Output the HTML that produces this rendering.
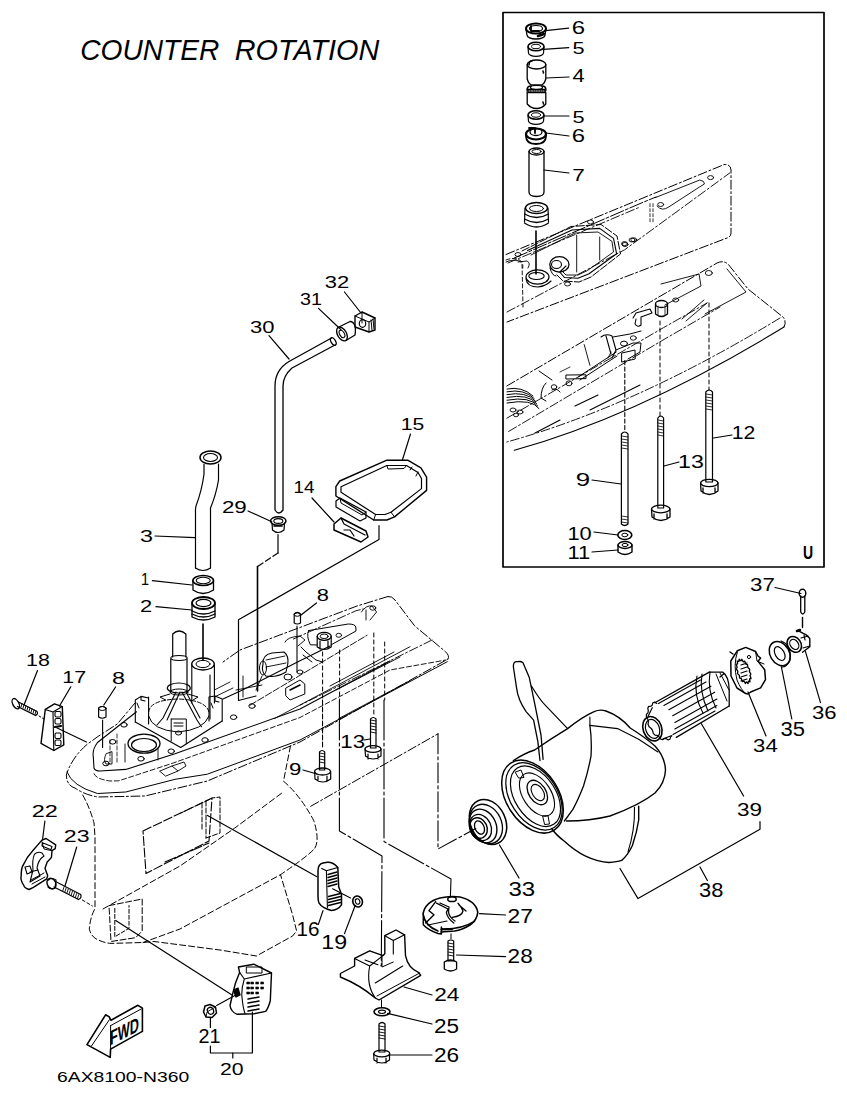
<!DOCTYPE html>
<html><head><meta charset="utf-8"><style>
html,body{margin:0;padding:0;background:#fff;}
svg{display:block;}
text{font-family:"Liberation Sans",sans-serif;fill:#000;stroke:none;}
</style></head><body>
<svg width="847" height="1095" viewBox="0 0 847 1095">
<rect x="0" y="0" width="847" height="1095" fill="#fff"/>
<g stroke="#000" stroke-linecap="round" stroke-linejoin="round" fill="none">
<text x="80.2" y="59.6" font-size="29.58" textLength="139.1" lengthAdjust="spacingAndGlyphs" font-style="italic">COUNTER</text>
<text x="234.8" y="59.6" font-size="29.58" textLength="144.5" lengthAdjust="spacingAndGlyphs" font-style="italic">ROTATION</text>
<text x="57.0" y="1082.1" font-size="15.21" textLength="132.2" lengthAdjust="spacingAndGlyphs">6AX8100-N360</text>
<rect x="503" y="12.5" width="321" height="554.5" stroke-width="1.7"/>
<text x="571.7" y="33.5" font-size="18.03" textLength="13.3" lengthAdjust="spacingAndGlyphs">6</text>
<text x="572.4" y="53.7" font-size="17.29" textLength="12.1" lengthAdjust="spacingAndGlyphs">5</text>
<text x="572.5" y="82.2" font-size="17.83" textLength="12.2" lengthAdjust="spacingAndGlyphs">4</text>
<text x="572.4" y="123.2" font-size="17.14" textLength="12.1" lengthAdjust="spacingAndGlyphs">5</text>
<text x="571.7" y="141.7" font-size="17.61" textLength="13.3" lengthAdjust="spacingAndGlyphs">6</text>
<text x="572.2" y="181.4" font-size="17.39" textLength="12.6" lengthAdjust="spacingAndGlyphs">7</text>
<text x="731.7" y="438.5" font-size="17.71" textLength="23.6" lengthAdjust="spacingAndGlyphs">12</text>
<text x="678.0" y="468.2" font-size="18.31" textLength="25.8" lengthAdjust="spacingAndGlyphs">13</text>
<text x="575.8" y="485.7" font-size="17.46" textLength="14.4" lengthAdjust="spacingAndGlyphs">9</text>
<text x="567.4" y="539.7" font-size="18.31" textLength="24.3" lengthAdjust="spacingAndGlyphs">10</text>
<text x="567.4" y="559.4" font-size="18.84" textLength="22.8" lengthAdjust="spacingAndGlyphs">11</text>
<text x="802.9" y="559.3" font-size="18.00" textLength="10.1" lengthAdjust="spacingAndGlyphs" font-weight="bold">U</text>
<line x1="545.7" y1="30.6" x2="568.7" y2="28.1" stroke-width="1.2"/>
<line x1="543.5" y1="49.3" x2="568.7" y2="47.7" stroke-width="1.2"/>
<line x1="546" y1="78" x2="569" y2="77" stroke-width="1.2"/>
<line x1="544" y1="116" x2="569" y2="116" stroke-width="1.2"/>
<line x1="546" y1="133" x2="569" y2="136" stroke-width="1.2"/>
<line x1="544" y1="170" x2="569" y2="173" stroke-width="1.2"/>
<line x1="713.5" y1="438" x2="732" y2="435" stroke-width="1.2"/>
<line x1="664" y1="466" x2="679" y2="462" stroke-width="1.2"/>
<line x1="592" y1="480" x2="621" y2="484" stroke-width="1.2"/>
<line x1="594" y1="532" x2="618" y2="535" stroke-width="1.2"/>
<line x1="592" y1="552" x2="618" y2="550" stroke-width="1.2"/>
<text x="324.7" y="288.1" font-size="16.62" textLength="24.4" lengthAdjust="spacingAndGlyphs">32</text>
<text x="300.0" y="304.7" font-size="16.90" textLength="22.0" lengthAdjust="spacingAndGlyphs">31</text>
<text x="250.1" y="332.7" font-size="16.90" textLength="24.5" lengthAdjust="spacingAndGlyphs">30</text>
<text x="221.9" y="513.2" font-size="16.62" textLength="24.9" lengthAdjust="spacingAndGlyphs">29</text>
<text x="400.8" y="430.3" font-size="16.43" textLength="23.6" lengthAdjust="spacingAndGlyphs">15</text>
<text x="293.6" y="493.4" font-size="16.67" textLength="21.0" lengthAdjust="spacingAndGlyphs">14</text>
<text x="140.1" y="541.7" font-size="16.90" textLength="13.0" lengthAdjust="spacingAndGlyphs">3</text>
<text x="141.1" y="584.7" font-size="16.67" textLength="8.1" lengthAdjust="spacingAndGlyphs">1</text>
<text x="140.1" y="612.0" font-size="16.57" textLength="12.2" lengthAdjust="spacingAndGlyphs">2</text>
<text x="316.7" y="600.6" font-size="16.62" textLength="12.2" lengthAdjust="spacingAndGlyphs">8</text>
<text x="111.9" y="683.5" font-size="16.48" textLength="13.0" lengthAdjust="spacingAndGlyphs">8</text>
<text x="26.0" y="665.9" font-size="17.18" textLength="23.8" lengthAdjust="spacingAndGlyphs">18</text>
<text x="62.2" y="682.9" font-size="17.39" textLength="23.9" lengthAdjust="spacingAndGlyphs">17</text>
<text x="340.3" y="747.7" font-size="18.31" textLength="24.7" lengthAdjust="spacingAndGlyphs">13</text>
<text x="289.0" y="775.1" font-size="16.48" textLength="12.4" lengthAdjust="spacingAndGlyphs">9</text>
<text x="31.8" y="816.5" font-size="16.86" textLength="26.1" lengthAdjust="spacingAndGlyphs">22</text>
<text x="63.8" y="842.4" font-size="16.62" textLength="25.8" lengthAdjust="spacingAndGlyphs">23</text>
<text x="296.5" y="936.4" font-size="19.30" textLength="22.9" lengthAdjust="spacingAndGlyphs">16</text>
<text x="321.3" y="948.7" font-size="19.72" textLength="25.8" lengthAdjust="spacingAndGlyphs">19</text>
<text x="508.4" y="895.7" font-size="21.13" textLength="26.7" lengthAdjust="spacingAndGlyphs">33</text>
<text x="507.6" y="922.9" font-size="20.00" textLength="25.3" lengthAdjust="spacingAndGlyphs">27</text>
<text x="507.6" y="962.5" font-size="19.44" textLength="25.1" lengthAdjust="spacingAndGlyphs">28</text>
<text x="434.2" y="1001.4" font-size="18.00" textLength="25.2" lengthAdjust="spacingAndGlyphs">24</text>
<text x="433.9" y="1033.1" font-size="19.44" textLength="25.1" lengthAdjust="spacingAndGlyphs">25</text>
<text x="433.9" y="1062.2" font-size="19.44" textLength="25.2" lengthAdjust="spacingAndGlyphs">26</text>
<text x="198.6" y="1042.7" font-size="19.71" textLength="22.0" lengthAdjust="spacingAndGlyphs">21</text>
<text x="219.9" y="1074.7" font-size="17.18" textLength="23.6" lengthAdjust="spacingAndGlyphs">20</text>
<text x="750.1" y="590.7" font-size="19.01" textLength="24.8" lengthAdjust="spacingAndGlyphs">37</text>
<text x="812.1" y="718.7" font-size="18.73" textLength="24.5" lengthAdjust="spacingAndGlyphs">36</text>
<text x="780.4" y="735.7" font-size="19.72" textLength="24.5" lengthAdjust="spacingAndGlyphs">35</text>
<text x="753.1" y="751.7" font-size="18.31" textLength="24.6" lengthAdjust="spacingAndGlyphs">34</text>
<text x="737.1" y="816.2" font-size="17.75" textLength="25.0" lengthAdjust="spacingAndGlyphs">39</text>
<text x="699.1" y="896.7" font-size="21.13" textLength="24.3" lengthAdjust="spacingAndGlyphs">38</text>
<line x1="344.5" y1="292" x2="361" y2="313" stroke-width="1.2"/>
<line x1="318.5" y1="308.4" x2="341" y2="329.7" stroke-width="1.2"/>
<line x1="269" y1="335.6" x2="289" y2="359" stroke-width="1.2"/>
<line x1="248" y1="511" x2="271.7" y2="521.7" stroke-width="1.2"/>
<line x1="410.5" y1="434" x2="402.4" y2="460" stroke-width="1.2"/>
<line x1="312" y1="498" x2="334" y2="522" stroke-width="1.2"/>
<line x1="155" y1="536" x2="195" y2="537.7" stroke-width="1.2"/>
<line x1="152.4" y1="580.7" x2="192" y2="585" stroke-width="1.2"/>
<line x1="156" y1="606.7" x2="192" y2="610" stroke-width="1.2"/>
<line x1="316.5" y1="603" x2="301" y2="615" stroke-width="1.2"/>
<line x1="115.6" y1="687" x2="103.8" y2="705" stroke-width="1.2"/>
<line x1="37.5" y1="670.5" x2="24" y2="705" stroke-width="1.2"/>
<line x1="70.8" y1="686.8" x2="59.5" y2="706" stroke-width="1.2"/>
<line x1="364" y1="740" x2="370" y2="739" stroke-width="1.2"/>
<line x1="303" y1="770" x2="317" y2="774" stroke-width="1.2"/>
<line x1="44.9" y1="821" x2="42.5" y2="840" stroke-width="1.2"/>
<line x1="76.7" y1="847" x2="65" y2="886" stroke-width="1.2"/>
<line x1="323" y1="910.6" x2="318.4" y2="924.4" stroke-width="1.2"/>
<line x1="355" y1="906" x2="344.5" y2="933.6" stroke-width="1.2"/>
<line x1="499.5" y1="845" x2="519" y2="878" stroke-width="1.2"/>
<line x1="479.6" y1="913.7" x2="505.6" y2="915" stroke-width="1.2"/>
<line x1="456.5" y1="955" x2="505.6" y2="956.6" stroke-width="1.2"/>
<line x1="404" y1="987" x2="432" y2="995" stroke-width="1.2"/>
<line x1="387.5" y1="1013.4" x2="432" y2="1024" stroke-width="1.2"/>
<line x1="389" y1="1055" x2="432" y2="1055" stroke-width="1.2"/>
<line x1="775" y1="587.5" x2="801" y2="593.5" stroke-width="1.2"/>
<line x1="805.4" y1="651.4" x2="820.5" y2="702.6" stroke-width="1.2"/>
<line x1="781.3" y1="666.5" x2="791.8" y2="719" stroke-width="1.2"/>
<line x1="748" y1="692" x2="766" y2="736" stroke-width="1.2"/>
<line x1="701.4" y1="723.7" x2="743.6" y2="796" stroke-width="1.2"/>
<polyline points="620,868.5 638,898.6 760,829.3 760,821.7" stroke-width="1.2" fill="none"/>
<line x1="700" y1="867" x2="707.4" y2="880.5" stroke-width="1.2"/>
<polyline points="210.4,1046 210.4,1053 252.4,1053 252.4,1012" stroke-width="1.2" fill="none"/>
<line x1="232.8" y1="1053" x2="232.8" y2="1058" stroke-width="1.2"/>
<line x1="210.4" y1="1018" x2="210.4" y2="1027.5" stroke-width="1.2"/>
<ellipse cx="536" cy="28.5" rx="10" ry="5" stroke-width="2" fill="none"/>
<ellipse cx="536" cy="28.5" rx="6.5" ry="3" stroke-width="1.2" fill="none"/>
<path d="M526,29 L527,35 M546,29 L545,35 M527,35 A9,4 0 0 0 545,35" stroke-width="1.3" fill="none"/>
<path d="M538,36 L544,34" stroke-width="2.5" fill="none"/>
<path d="M531,26 L531,31 L539,31" stroke-width="1.8" fill="none"/>
<ellipse cx="536" cy="46.5" rx="8" ry="4.3" stroke-width="1.6" fill="none"/>
<ellipse cx="536" cy="46.5" rx="4.5" ry="2.2" stroke-width="1" fill="none"/>
<path d="M528,47 L528.5,53 M544,47 L543.5,53 M528.5,53 A7.5,3.3 0 0 0 543.5,53" stroke-width="1.2" fill="none"/>
<ellipse cx="536.5" cy="64.5" rx="9.3" ry="4.5" stroke-width="1.3" fill="none"/>
<path d="M529,65 Q529,61 532,61" stroke-width="1.6" fill="none"/>
<path d="M527.2,64.5 L527.2,79 Q528,83 531,85 L542,85 Q545,83 545.8,79 L545.8,64.5" stroke-width="1.3" fill="none"/>
<path d="M543,71 L543.5,73" stroke-width="1.5" fill="none"/>
<ellipse cx="536.5" cy="87.5" rx="6" ry="2" stroke-width="1.2" fill="none"/>
<path d="M527.2,90 Q527,86 531,86 M542,86 Q546,86 545.8,90" stroke-width="1.6" fill="none"/>
<path d="M527.2,89 L545.8,89 L545.8,93 L527.2,93 Z" stroke-width="0.5" fill="#000"/>
<path d="M529,91 L544,91" stroke-width="0.8" fill="none" stroke="#fff" stroke-dasharray="1.2 1.2"/>
<path d="M527.2,93 L527.2,104 Q531,108.5 536.5,108.5 Q542,108.5 545.8,104 L545.8,93" stroke-width="1.3" fill="none"/>
<path d="M543,102 L543.5,104" stroke-width="1.5" fill="none"/>
<ellipse cx="536" cy="115" rx="8" ry="4.3" stroke-width="1.6" fill="none"/>
<ellipse cx="536" cy="115" rx="4.5" ry="2.2" stroke-width="1" fill="none"/>
<path d="M528,116 L528.5,121 M544,116 L543.5,121 M528.5,121 A7.5,3.3 0 0 0 543.5,121" stroke-width="1.2" fill="none"/>
<ellipse cx="536" cy="134" rx="10" ry="5.5" stroke-width="2.2" fill="none"/>
<ellipse cx="536" cy="132" rx="6" ry="3.5" stroke-width="1.3" fill="none"/>
<path d="M529,128 L535,128 L535,133 M526,136 Q526,144 536,144 Q546,144 546,136" stroke-width="1.8" fill="none"/>
<ellipse cx="536.5" cy="151.5" rx="7.5" ry="3.5" stroke-width="1.3" fill="none"/>
<ellipse cx="536.5" cy="151.5" rx="4.5" ry="2" stroke-width="1" fill="none"/>
<path d="M529,151.5 L529,192 Q529,196.5 536.5,196.5 Q544,196.5 544,192 L544,151.5" stroke-width="1.3" fill="none"/>
<ellipse cx="536.5" cy="208" rx="11" ry="5.5" stroke-width="1.4" fill="none"/>
<ellipse cx="536.5" cy="208.5" rx="7" ry="3" stroke-width="1" fill="none"/>
<path d="M525,208 L524.5,222 M548,208 L548.5,222" stroke-width="1.2" fill="none"/>
<path d="M524.5,214 Q536.5,221 548.5,214 M524.5,219 Q536.5,226 548.5,219 M524.5,223 Q536.5,231 548.5,223" stroke-width="1.3" fill="none"/>
<line x1="536" y1="231" x2="536" y2="274" stroke-width="1.6"/>
<path d="M506,254.5 L724,164.6 Q731,164 731,170 L731,233 Q731,237 727,238 L507,322" stroke-width="1.0" fill="none" stroke-dasharray="9 2.5 2 2.5"/>
<path d="M508,263 L640,207" stroke-width="0.9" fill="none" stroke-dasharray="9 2.5 2 2.5"/>
<path d="M507,312 L624.6,249.8 L729.7,173" stroke-width="0.9" fill="none" stroke-dasharray="9 2.5 2 2.5"/>
<path d="M506,262 Q515,258 521,262" stroke-width="0.9" fill="none"/>
<polyline points="527.5,250.6 572,230 599.7,228.4 613.5,238.4 616.6,253.7 589,273.7 578,278.3 564.4,277.5 559.8,272 566,266" stroke-width="1.1" fill="none"/>
<polyline points="522,251 571,226.5 601,224.5 617,236 620.5,254 591,277 579,282 563,281 556,274" stroke-width="1.0" fill="none" stroke-dasharray="8 2"/>
<path d="M514.3,258 L639,204 L656,197" stroke-width="1.0" fill="none" stroke-dasharray="14 2 3 2"/>
<path d="M518,262 L527,261 Q531,263 528,268 M522.8,265 L522.8,268" stroke-width="0.9" fill="none"/>
<polyline points="531,255 575,233 598,232 612,241.4 613.5,252 587.4,270.6 578,275 566,275 562,271" stroke-width="0.9" fill="none"/>
<line x1="576.7" y1="235" x2="576.7" y2="272" stroke-width="0.9"/>
<line x1="599.7" y1="237" x2="599.7" y2="260" stroke-width="0.9"/>
<ellipse cx="559.4" cy="264.4" rx="9.6" ry="7.7" stroke-width="1.3" fill="none"/>
<ellipse cx="556.5" cy="264.5" rx="5" ry="4" stroke-width="1.1" fill="none"/>
<path d="M550,268 Q552,276 556,276" stroke-width="1.0" fill="none"/>
<ellipse cx="537.5" cy="277" rx="11.5" ry="7.2" stroke-width="1.2" fill="none"/>
<ellipse cx="536.5" cy="276" rx="7.7" ry="3.5" stroke-width="1.1" fill="none"/>
<path d="M526,279 Q527,287 538,287 Q546,286 551,281" stroke-width="1.1" fill="none"/>
<path d="M506,260 Q516,256 522,262 L523,307" stroke-width="0.9" fill="none" stroke-dasharray="4 2.5"/>
<ellipse cx="590.5" cy="222" rx="3" ry="2" stroke-width="0.9" fill="none"/>
<ellipse cx="625" cy="244.5" rx="3" ry="2" stroke-width="0.9" fill="none"/>
<ellipse cx="632" cy="240" rx="3" ry="2" stroke-width="0.9" fill="none"/>
<ellipse cx="518" cy="254.5" rx="3" ry="2" stroke-width="0.9" fill="none"/>
<ellipse cx="567.5" cy="284" rx="3" ry="2" stroke-width="0.9" fill="none"/>
<ellipse cx="710.6" cy="177.6" rx="3" ry="2" stroke-width="0.9" fill="none"/>
<ellipse cx="660.7" cy="204.5" rx="3" ry="2" stroke-width="0.9" fill="none"/>
<ellipse cx="624.6" cy="243.6" rx="3" ry="2" stroke-width="0.9" fill="none"/>
<ellipse cx="633.8" cy="239.8" rx="3" ry="2" stroke-width="0.9" fill="none"/>
<path d="M655.3,197.6 L699.8,180 Q705,181 704.4,184 L699.8,186.8 L669,206.8 Q662,212 657,206" stroke-width="0.9" fill="none"/>
<path d="M650,203.7 L650,223.7 M653,203.7 L653,223.7" stroke-width="0.8" fill="none" stroke-dasharray="3 2"/>
<path d="M506.8,386 L717,263 Q723,260 728,264 L748,289 L783,317 Q787,322 784,327" stroke-width="1.0" fill="none" stroke-dasharray="9 2.5 2 2.5"/>
<path d="M784,327 Q640,415 514.3,450.3" stroke-width="1.1" fill="none"/>
<path d="M780,318 Q636,406 506.8,442" stroke-width="0.9" fill="none" stroke-dasharray="9 2.5 2 2.5"/>
<path d="M727,269 L746,292 L705,314" stroke-width="0.9" fill="none"/>
<path d="M506.8,418.2 L663.6,327.6 L707,303" stroke-width="0.9" fill="none" stroke-dasharray="9 2.5 2 2.5"/>
<path d="M508.7,431.4 L661.7,340.8 L720,307" stroke-width="0.9" fill="none" stroke-dasharray="9 2.5 2 2.5"/>
<path d="M575,406 L598,395 M535,433 L560,420 M590,410 L640,385" stroke-width="1.1" fill="none"/>
<path d="M682,319 L704,300 M686,321 L707,303" stroke-width="0.9" fill="none"/>
<path d="M661,284 L699,274 L701,286 L665,305" stroke-width="0.9" fill="none"/>
<ellipse cx="661.5" cy="304" rx="6" ry="3.5" stroke-width="1.3" fill="none"/>
<path d="M655.5,304 L655.5,314 Q661.5,319 667.5,314 L667.5,304" stroke-width="1.3" fill="none"/>
<path d="M658,306 L658,315 M665,306 L665,315" stroke-width="0.8" fill="none"/>
<ellipse cx="708.8" cy="273" rx="3.5" ry="2.5" stroke-width="0.9" fill="none"/>
<ellipse cx="675.7" cy="300" rx="3" ry="2" stroke-width="0.9" fill="none"/>
<path d="M633,318 L636,313 L650,309 L652,313 L641,317 L641,325 Q638,328 635,324 L636,319" stroke-width="1.1" fill="none"/>
<path d="M601,337 Q606,333 612,336 L616,350 L612,358 M606,336 L611,354" stroke-width="1.1" fill="none"/>
<path d="M613,337 L630,334 L641,331 M616,350 L633,343 L641,343 L640,352 L628,359" stroke-width="1.0" fill="none"/>
<ellipse cx="624" cy="343.6" rx="3.5" ry="2.5" stroke-width="1.0" fill="none"/>
<ellipse cx="633.3" cy="338" rx="3" ry="2.2" stroke-width="0.9" fill="none"/>
<path d="M622,353 L635,350 L635.2,359 L622,362 Z" stroke-width="1.0" fill="none"/>
<path d="M584.2,344.6 L589.9,365.3" stroke-width="0.9" fill="none"/>
<path d="M566.3,375 L586,374.8 L586,378.6 L566.3,379 Z" stroke-width="1.0" fill="none"/>
<path d="M578.6,376.7 L616.3,352 M580,380 L617,356" stroke-width="1.0" fill="none"/>
<path d="M539,371 L552,380 M546,383 Q541,388 541,398 L546,401 M552,390 Q556,387 560,392" stroke-width="1.0" fill="none"/>
<ellipse cx="554" cy="387" rx="2.8" ry="2.3" stroke-width="0.9" fill="none"/>
<ellipse cx="569" cy="383.3" rx="3" ry="2.5" stroke-width="0.9" fill="none"/>
<path d="M507.0,389.0 Q522.0,386.0 533.0,396.0" stroke-width="1.0" fill="none"/>
<path d="M507.0,391.8 Q524.0,388.5 534.2,398.5" stroke-width="1.0" fill="none"/>
<path d="M507.0,394.6 Q526.0,391.0 535.4,401.0" stroke-width="1.0" fill="none"/>
<path d="M507.0,397.4 Q528.0,393.5 536.6,403.5" stroke-width="1.0" fill="none"/>
<path d="M507.0,400.2 Q530.0,396.0 537.8,406.0" stroke-width="1.0" fill="none"/>
<path d="M507.0,403.0 Q532.0,398.5 539.0,408.5" stroke-width="1.0" fill="none"/>
<ellipse cx="513" cy="410" rx="3" ry="2" stroke-width="0.9" fill="none"/>
<ellipse cx="520" cy="412" rx="3" ry="2" stroke-width="0.9" fill="none"/>
<ellipse cx="516" cy="415" rx="2.5" ry="1.8" stroke-width="0.9" fill="none"/>
<path d="M608,358 L611,352 M560,372 L570,367" stroke-width="0.8" fill="none"/>
<line x1="624.8" y1="360.6" x2="624.8" y2="431.4" stroke-width="1.1" stroke-dasharray="4 2.5"/>
<line x1="660" y1="321" x2="660" y2="416" stroke-width="1" stroke-dasharray="4 3"/>
<line x1="709" y1="303" x2="709" y2="390" stroke-width="1" stroke-dasharray="4 3"/>
<path d="M621.4,434 Q624.7,430 628,434 L628,524 Q624.7,527 621.4,524 Z" stroke-width="1.2" fill="none"/>
<line x1="621.5" y1="436" x2="627.9" y2="437" stroke-width="0.8"/>
<line x1="621.5" y1="439" x2="627.9" y2="440" stroke-width="0.8"/>
<line x1="621.5" y1="442" x2="627.9" y2="443" stroke-width="0.8"/>
<line x1="621.5" y1="445" x2="627.9" y2="446" stroke-width="0.8"/>
<line x1="621.5" y1="448" x2="627.9" y2="449" stroke-width="0.8"/>
<line x1="621.5" y1="516" x2="627.9" y2="517" stroke-width="0.8"/>
<line x1="621.5" y1="519" x2="627.9" y2="520" stroke-width="0.8"/>
<line x1="621.5" y1="522" x2="627.9" y2="523" stroke-width="0.8"/>
<ellipse cx="624.8" cy="535" rx="7" ry="4.5" stroke-width="1.6" fill="none"/>
<ellipse cx="624.8" cy="535" rx="3" ry="1.8" stroke-width="1" fill="none"/>
<ellipse cx="625" cy="545" rx="7" ry="3.5" stroke-width="1.4" fill="none"/>
<ellipse cx="625" cy="545" rx="3" ry="1.6" stroke-width="1" fill="none"/>
<path d="M618,545 L618,552 Q625,557 632,552 L632,545" stroke-width="1.4" fill="none"/>
<path d="M657.8,418 Q660.7,414 663.6,418 L663.6,508 L657.8,508 Z" stroke-width="1.2" fill="none"/>
<line x1="657.9" y1="420" x2="663.5" y2="421" stroke-width="0.8"/>
<line x1="657.9" y1="423" x2="663.5" y2="424" stroke-width="0.8"/>
<line x1="657.9" y1="426" x2="663.5" y2="427" stroke-width="0.8"/>
<line x1="657.9" y1="429" x2="663.5" y2="430" stroke-width="0.8"/>
<line x1="657.9" y1="432" x2="663.5" y2="433" stroke-width="0.8"/>
<line x1="657.9" y1="435" x2="663.5" y2="436" stroke-width="0.8"/>
<ellipse cx="660.7" cy="509" rx="9.2" ry="3.8" stroke-width="1.3" fill="none"/>
<path d="M651.5,509 L652,517 Q660.7,524 670,517 L670,509 M654,514 L654,519 M667,514 L667,519" stroke-width="1.3" fill="none"/>
<path d="M705.8,392 Q709.2,388 712.5,392 L712.5,482 L705.8,482 Z" stroke-width="1.2" fill="none"/>
<line x1="705.9" y1="394" x2="712.4" y2="395" stroke-width="0.8"/>
<line x1="705.9" y1="397" x2="712.4" y2="398" stroke-width="0.8"/>
<line x1="705.9" y1="400" x2="712.4" y2="401" stroke-width="0.8"/>
<line x1="705.9" y1="403" x2="712.4" y2="404" stroke-width="0.8"/>
<line x1="705.9" y1="406" x2="712.4" y2="407" stroke-width="0.8"/>
<line x1="705.9" y1="409" x2="712.4" y2="410" stroke-width="0.8"/>
<ellipse cx="709.3" cy="483" rx="8.7" ry="3.7" stroke-width="1.3" fill="none"/>
<path d="M700.6,483 L701,491 Q709.3,498 718,491 L718,483 M703,488 L703,493 M715,488 L715,493" stroke-width="1.3" fill="none"/>
<ellipse cx="802.5" cy="593.3" rx="3.3" ry="4" stroke-width="1.4" fill="none"/>
<path d="M800.7,596 L800.7,612 Q802.7,616 804.8,612 L804.8,596" stroke-width="1.3" fill="none"/>
<line x1="802.5" y1="617.5" x2="802.5" y2="627.5" stroke-width="1.4"/>
<path d="M798.9,631.2 L806.2,634.8 L809.8,638.5 L809.8,646.7 L802.5,652.2" stroke-width="1.4" fill="none"/>
<ellipse cx="794.3" cy="644.4" rx="6.6" ry="8.4" transform="rotate(-35 794.3 644.4)" stroke-width="1.6" fill="none"/>
<ellipse cx="794.3" cy="644.4" rx="4" ry="5.5" transform="rotate(-35 794.3 644.4)" stroke-width="1.2" fill="none"/>
<path d="M801,638 L808,636 M803,648 L809.8,646 M804,635 L805,640" stroke-width="1.2" fill="none"/>
<path d="M797,631 L800,630" stroke-width="2.5" fill="none"/>
<ellipse cx="779.7" cy="653.6" rx="9.6" ry="12.8" transform="rotate(-30 779.7 653.6)" stroke-width="1.5" fill="none"/>
<ellipse cx="779.7" cy="653.6" rx="4.5" ry="7.5" transform="rotate(-30 779.7 653.6)" stroke-width="1.2" fill="none"/>
<path d="M781,641 Q792,645 790,660 Q787,667 782,667" stroke-width="1.2" fill="none"/>
<path d="M540,760.5 L537.8,741.4 L533.6,720.1 L526.1,711.6 Q518,700 516.6,688.2 L513.4,667 Q513,661 517.6,661.7 Q521,661 523,662.7 L529.3,677.6 L534.6,703.1 L541,735 L543.1,759.4" stroke-width="1.3" fill="none"/>
<path d="M531.4,686 Q540,700 545.2,705.2 L567.6,728.6" stroke-width="1.2" fill="none"/>
<ellipse cx="532.5" cy="796.6" rx="26" ry="40" transform="rotate(-33 532.5 796.6)" stroke-width="1.5" fill="none"/>
<ellipse cx="534" cy="796.4" rx="23.5" ry="37" transform="rotate(-33 534 796.4)" stroke-width="1.2" fill="none"/>
<ellipse cx="535.5" cy="796.2" rx="20.5" ry="33.5" transform="rotate(-33 535.5 796.2)" stroke-width="1.2" fill="none"/>
<ellipse cx="537" cy="794.5" rx="14" ry="24" transform="rotate(-33 537 794.5)" stroke-width="1.1" fill="none"/>
<ellipse cx="537.3" cy="792.5" rx="8.5" ry="13.5" transform="rotate(-33 537.3 792.5)" stroke-width="1.3" fill="none"/>
<ellipse cx="537.8" cy="792.5" rx="5.5" ry="9" transform="rotate(-33 537.8 792.5)" stroke-width="1.1" fill="none"/>
<path d="M515.5,772 L521,770 L524,777.5 L519,778 Z M543,816 L548,815.7 L549.5,824 L545,824.5 Z" stroke-width="1.0" fill="none"/>
<path d="M513.4,760.5 Q525,753 534.6,750 Q552,738 567.6,728.6 Q582,717 594.1,711.6 Q600,709 606,711 Q620,716 630.2,728 Q646,738 655,746 Q665,757 665.5,770 Q665,783 655,793 Q640,805 610,816 Q590,821 566.5,821" stroke-width="1.4" fill="none"/>
<path d="M589.9,725.4 L617.5,728.6 L638.7,739.2 L657.9,752" stroke-width="1.1" fill="none"/>
<path d="M589.9,725.4 Q592,740 591,756.2 Q588,772 583.5,786 Q578,800 572.9,809.4 L564.4,821" stroke-width="1.3" fill="none"/>
<path d="M589.9,725.4 L589.9,717" stroke-width="1.1" fill="none"/>
<path d="M551.6,828.5 Q556,835 564.4,841.2 Q575,851 585.6,856.1 Q598,862 609,862.5 Q617,862 621.7,860.4 Q628,855 632.4,845.5 Q637,832 638.7,820 L638.7,806.2" stroke-width="1.4" fill="none"/>
<path d="M634.5,807.2 Q635,830 628,851.9" stroke-width="1.1" fill="none"/>
<ellipse cx="488" cy="822" rx="17.5" ry="23.5" transform="rotate(-25 488 822)" stroke-width="1.5" fill="none"/>
<ellipse cx="486" cy="824" rx="15.5" ry="20.5" transform="rotate(-25 486 824)" stroke-width="1.3" fill="none"/>
<ellipse cx="483" cy="826" rx="13" ry="17.5" transform="rotate(-25 483 826)" stroke-width="1.4" fill="none"/>
<ellipse cx="480.5" cy="827.5" rx="10.5" ry="13.5" transform="rotate(-25 480.5 827.5)" stroke-width="1.3" fill="none"/>
<ellipse cx="478.5" cy="828" rx="8.5" ry="10.5" transform="rotate(-25 478.5 828)" stroke-width="1.4" fill="none"/>
<ellipse cx="479.5" cy="827.5" rx="4.5" ry="7" transform="rotate(-25 479.5 827.5)" stroke-width="1.3" fill="none"/>
<ellipse cx="652.4" cy="728.7" rx="9.3" ry="12.5" transform="rotate(-20 652.4 728.7)" stroke-width="1.6" fill="none"/>
<ellipse cx="652.6" cy="728.9" rx="6.8" ry="9.8" transform="rotate(-20 652.6 728.9)" stroke-width="1.2" fill="none"/>
<path d="M648.2,716 L652.3,707.7 M663,738.8 L671.3,735.8" stroke-width="1.2" fill="none"/>
<path d="M671.9,735.8 L670.6,736.9 L669.9,739.3 L668.2,739.9 L666.0,738.6 L664.3,738.5 L662.6,739.7 L660.6,739.0 L658.9,736.6 L657.2,735.4 L655.0,735.1 L653.3,733.3 L652.5,730.4 L651.2,728.4 L649.1,726.8 L648.0,724.3 L648.4,721.8 L647.9,719.5 L646.4,716.8 L646.4,714.4 L647.9,712.9 L648.3,710.9 L647.8,708.1 L648.8,706.3 L650.9,706.2 L652.2,705.1 L652.9,702.7 L654.6,702.1 L656.8,703.4" stroke-width="1.2" fill="none"/>
<path d="M654.8,702.7 L709.3,672.1 M676.3,737.4 L729.2,706" stroke-width="1.3" fill="none"/>
<line x1="658.5" y1="703.5" x2="700.5" y2="680.0" stroke-width="1.1"/>
<line x1="663.9" y1="705.4" x2="705.9" y2="681.9" stroke-width="1.1"/>
<line x1="668.9" y1="709.7" x2="710.9" y2="686.2" stroke-width="1.1"/>
<line x1="672.7" y1="715.7" x2="714.7" y2="692.2" stroke-width="1.1"/>
<line x1="674.9" y1="722.5" x2="716.9" y2="699.0" stroke-width="1.1"/>
<line x1="674.9" y1="729.1" x2="716.9" y2="705.6" stroke-width="1.1"/>
<line x1="673.0" y1="734.5" x2="715.0" y2="711.0" stroke-width="1.1"/>
<path d="M697,676 Q693,695 703,713 M702,674 Q699,692 708,711 M710,672 Q707,690 716,708" stroke-width="1.1" fill="none"/>
<path d="M709.3,672.1 L722.6,672.1 Q729,676 729.2,690 L729.2,706" stroke-width="1.3" fill="none"/>
<path d="M716,674 L727,701 M720,673 L729,690" stroke-width="1.0" fill="none"/>
<line x1="720" y1="677" x2="724" y2="673.8" stroke-width="1.3"/>
<polygon points="730.8,661 737.4,650.7 745.7,647.4 755.6,651.5 758,656 760.6,658 758,661.4 764.7,669.7 765.5,679.6 760.6,687.9 750.7,692 748,694 745.7,693.6 737,688 731,676" stroke-width="1.5" fill="none"/>
<path d="M737.4,652 Q733,665 737,680 Q741,690 745.7,693.6" stroke-width="1.0" fill="none"/>
<path d="M755.6,651.5 L757,661 L764,664" stroke-width="1.0" fill="none"/>
<path d="M749.7,669.2 L749.4,671.6 L750.9,674.0 L750.0,675.6 L751.1,678.5 L749.6,678.9 L750.0,681.8 L748.3,681.2 L748.0,683.6 L746.3,681.9 L745.4,683.5 L743.9,681.0 L742.4,681.6 L741.4,678.7 L739.7,678.1 L739.3,675.3 L737.5,673.6 L737.8,671.2 L736.3,668.8 L737.2,667.2 L736.1,664.3 L737.6,663.9 L737.2,661.0 L738.9,661.6 L739.2,659.2 L740.9,660.9 L741.8,659.3 L743.3,661.8 L744.8,661.2 L745.8,664.1 L747.5,664.7 L747.9,667.5 L749.7,669.2 Z" stroke-width="1.3" fill="none"/>
<line x1="741" y1="665" x2="747" y2="663" stroke-width="1.2"/>
<line x1="741" y1="669" x2="747" y2="667" stroke-width="1.2"/>
<line x1="741" y1="673" x2="747" y2="671" stroke-width="1.2"/>
<line x1="741" y1="677" x2="747" y2="675" stroke-width="1.2"/>
<line x1="741" y1="681" x2="747" y2="679" stroke-width="1.2"/>
<ellipse cx="749" cy="657" rx="1.6" ry="1.6" stroke-width="1.0" fill="none"/>
<line x1="730" y1="652" x2="733" y2="654" stroke-width="1.4"/>
<path d="M388,596.5 L357,606 L240,650 L223,662" stroke-width="1.0" fill="none" stroke-dasharray="9 2.5 2 2.5"/>
<path d="M135,703 L117.3,724 L97.5,736.8 L87.6,744 Q72,757 66.3,775 Q67,786 75,788 Q85,795 98,797 L145,796 L207.3,781 L300,742 L448,659" stroke-width="1.0" fill="none" stroke-dasharray="9 2.5 2 2.5"/>
<path d="M388,596.5 Q392,596 395,600 L414.5,625.7 L445.5,651.7 Q450,656 448,659" stroke-width="1.0" fill="none" stroke-dasharray="9 2.5 2 2.5"/>
<path d="M432,640 L300,705.2" stroke-width="0.9" fill="none" stroke-dasharray="9 2.5 2 2.5"/>
<path d="M67,772 Q72,786 97.5,793.5 L125.8,792 L175,779.3 L207.3,774.2 L300,740 L447.3,661.7" stroke-width="1.0" fill="none"/>
<path d="M94,773.7 Q96,779 110,781 L118.8,780.8 L173.3,763 L300,717.5 L390,670 L446,660" stroke-width="0.9" fill="none" stroke-dasharray="5 2.5"/>
<path d="M97.5,742.5 L136.5,711.8 M223,699 L241.4,690.6 L300,660.8 L330,646" stroke-width="1.1" fill="none"/>
<path d="M97.5,742.5 Q92,750 93.3,756.7 L94,768 Q95,771 100,771 L125.8,769.4 L175,753.8 L300,709 L390,661" stroke-width="1.1" fill="none"/>
<ellipse cx="144" cy="743.6" rx="16" ry="9.5" stroke-width="1.3" fill="none"/>
<ellipse cx="144" cy="745" rx="12.5" ry="6.5" stroke-width="1.2" fill="none"/>
<path d="M125,744 L125,762 M158,748 L158,760" stroke-width="0.9" fill="none"/>
<path d="M117,734 L117,762 M110,740 L110,764" stroke-width="0.8" fill="none" stroke-dasharray="4 2"/>
<ellipse cx="106" cy="763.5" rx="3.2" ry="2.3" stroke-width="1.0" fill="none"/>
<ellipse cx="112.7" cy="741.8" rx="3.2" ry="2.3" stroke-width="1.0" fill="none"/>
<ellipse cx="124" cy="724.8" rx="3.2" ry="2.3" stroke-width="1.0" fill="none"/>
<ellipse cx="171.2" cy="751.2" rx="3.2" ry="2.3" stroke-width="1.0" fill="none"/>
<ellipse cx="141" cy="758.8" rx="3.2" ry="2.3" stroke-width="1.0" fill="none"/>
<ellipse cx="233.6" cy="717.2" rx="3.2" ry="2.3" stroke-width="1.0" fill="none"/>
<ellipse cx="252" cy="706" rx="3.2" ry="2.3" stroke-width="1.0" fill="none"/>
<ellipse cx="205" cy="740" rx="3.2" ry="2.3" stroke-width="1.0" fill="none"/>
<path d="M106,754 Q103,760 106,764 L112,764 L112,752 Z" stroke-width="0.9" fill="none"/>
<path d="M160,771 L172,766 L178,771 L166,776 Z M172,766 L184,762 L186,766 L178,771" stroke-width="0.9" fill="none"/>
<path d="M135.3,722 L180.7,747.4 L222.2,721" stroke-width="1.2" fill="none"/>
<path d="M135.3,700 L135.3,722 M148.6,697 L148.6,724 M135.3,700 L141,696.4 L148.6,698 M141,696.4 L141,700 L145,701" stroke-width="1.1" fill="none"/>
<path d="M209,697 L209,721 M222.2,699 L222.2,721 M209,697 L215,696 L222.2,699 M215,696 L215,701 L219,702" stroke-width="1.1" fill="none"/>
<path d="M137,703 L139,708 M211,703 L213,708" stroke-width="1.0" fill="none"/>
<path d="M148.6,712 Q150,700 178,699 Q206,700 209,712" stroke-width="1.0" fill="none" stroke-dasharray="4 2"/>
<path d="M148.6,716 Q152,730 178,732 Q204,730 209,716" stroke-width="1.0" fill="none"/>
<path d="M176,692 L163,718 L157,725 M180,692 L167,720 M182,692 L197,720 L201.4,726.7 M186,692 L200,718" stroke-width="1.1" fill="none"/>
<path d="M170,694 L160,697 L165.6,700 M188,694 L198,697 L193,700" stroke-width="1.0" fill="none"/>
<path d="M171.2,719 L186.3,719 L186.3,743.7 M171.2,719 L171.2,741 M174,723 L183,723 M174,726 L183,726" stroke-width="1.0" fill="none"/>
<ellipse cx="178.5" cy="733" rx="3" ry="2" stroke-width="1.0" fill="none"/>
<ellipse cx="178.8" cy="688" rx="11.5" ry="5" stroke-width="1.2" fill="none"/>
<path d="M172.7,657 L172.7,634 Q179,628 185.9,634 L185.9,657" stroke-width="1.2" fill="none"/>
<ellipse cx="179" cy="658" rx="8.2" ry="2.5" stroke-width="1.1" fill="none"/>
<path d="M170.8,659 L170.8,692 M187,659 L187,692" stroke-width="1.2" fill="none"/>
<ellipse cx="179" cy="692" rx="9" ry="3" stroke-width="1.0" fill="none"/>
<ellipse cx="203" cy="664" rx="11.3" ry="6" stroke-width="1.3" fill="none"/>
<ellipse cx="203" cy="664" rx="7" ry="3.6" stroke-width="1.0" fill="none"/>
<path d="M191.8,665 L191.8,703 M214.4,665 L214.4,703 M210,675 L210,719" stroke-width="1.1" fill="none"/>
<path d="M214.4,690 L230,682 M214.4,697 L233,688" stroke-width="0.9" fill="none"/>
<line x1="203" y1="624" x2="203" y2="660" stroke-width="1.6"/>
<path d="M278,534.7 L278,553" stroke-width="1.2" fill="none"/>
<path d="M278,553 L257.5,566.5" stroke-width="1.2" fill="none" stroke-dasharray="6 3"/>
<line x1="257.5" y1="566.5" x2="257.5" y2="691" stroke-width="1.6"/>
<path d="M379,525.5 L379,539.5 L238.5,619.8 L238.5,700.5 L256,696" stroke-width="1.2" fill="none"/>
<line x1="297" y1="626" x2="297" y2="672" stroke-width="1.1"/>
<line x1="102.6" y1="720" x2="102.6" y2="747.4" stroke-width="1.1"/>
<path d="M294.2,614 Q297.3,611 300.5,614 L300.5,623 Q297.3,625 294.2,623 Z" stroke-width="1.2" fill="none"/>
<ellipse cx="297.3" cy="614.5" rx="3.1" ry="1.8" stroke-width="1" fill="none"/>
<path d="M98.6,708 Q102.3,705 106,708 L106,717 Q102.3,719.5 98.6,717 Z" stroke-width="1.2" fill="none"/>
<ellipse cx="102.3" cy="708.5" rx="3.7" ry="2" stroke-width="1" fill="none"/>
<ellipse cx="324.2" cy="636.3" rx="7" ry="4" stroke-width="1.3" fill="none"/>
<ellipse cx="324.2" cy="636.3" rx="4" ry="2.3" stroke-width="1.0" fill="none"/>
<path d="M317.2,636.3 L317.2,647 Q324,652 331.2,647 L331.2,636.3 M320,641 L320,649 M328,641 L328,649" stroke-width="1.2" fill="none"/>
<path d="M308.6,630.6 L348.2,624 Q355,624 355.8,627 L356,631 L331.2,644.8 M308.6,630.6 Q306,636 310.4,644.8 L317,645" stroke-width="1.0" fill="none"/>
<ellipse cx="338.8" cy="635.3" rx="2.8" ry="2" stroke-width="0.9" fill="none"/>
<path d="M361.4,612 Q366,605 372,606 L376.6,612 L370,620 M366,610 L366,620" stroke-width="0.9" fill="none"/>
<ellipse cx="372.8" cy="608" rx="3" ry="2.2" stroke-width="0.9" fill="none"/>
<path d="M293.4,639 L355.8,610.8 L363.3,608.9" stroke-width="0.9" fill="none" stroke-dasharray="9 2.5 2 2.5"/>
<path d="M285,642 Q287,637 300,636 L305,640 L298,646" stroke-width="0.9" fill="none"/>
<path d="M263,664 Q262,655 272,653 L284,652 Q289,656 287.8,664 L286,672 Q276,678 266,676 Q261,672 263,664 Z" stroke-width="1.1" fill="none"/>
<path d="M266,660 L285,656 M266,667 L286,663" stroke-width="0.9" fill="none"/>
<ellipse cx="263" cy="668" rx="3.5" ry="7" stroke-width="1.0" fill="none"/>
<path d="M301,647 L306,652 L316,660 L321.8,661.8 M303,655 L312,662" stroke-width="1.0" fill="none"/>
<ellipse cx="288" cy="677" rx="4" ry="3" stroke-width="1.0" fill="none"/>
<ellipse cx="300" cy="672" rx="3" ry="2" stroke-width="0.9" fill="none"/>
<path d="M286,688 L300,680 L304.8,684 L304.8,694 L290,700 L286,696 Z" stroke-width="1.0" fill="none"/>
<path d="M290,690 L300,685" stroke-width="1.6" fill="none"/>
<path d="M256,690 L262,676 M243,676 L243,697 M236,690 L262,685" stroke-width="0.9" fill="none"/>
<path d="M330,686 L394,652 M336,690 L400,657" stroke-width="0.9" fill="none"/>
<path d="M274.6,718.5 L410,646.7" stroke-width="0.9" fill="none"/>
<path d="M250,705.2 L367,635.3" stroke-width="0.9" fill="none" stroke-dasharray="7 2"/>
<path d="M338.8,718.5 L410,680.7" stroke-width="0.9" fill="none"/>
<line x1="373.8" y1="633" x2="373.8" y2="716" stroke-width="1" stroke-dasharray="4 3"/>
<line x1="384.7" y1="642" x2="384.7" y2="700" stroke-width="1" stroke-dasharray="4 3"/>
<line x1="339.6" y1="650" x2="339.6" y2="700" stroke-width="1" stroke-dasharray="4 3"/>
<line x1="322.6" y1="652" x2="322.6" y2="749" stroke-width="1" stroke-dasharray="4 3"/>
<path d="M82.7,795 Q90,808 94,823 L95,836.7 L95,908.4 Q90,918 89.3,929.2 Q92,938 97.8,939.6 Q104,943 111,943.4 L143,942.5 L154,941.5 L220,950 L256.4,956 L292.6,936 L296.6,931 L292.6,914.9 L280.5,874.7" stroke-width="1.0" fill="none" stroke-dasharray="6 3"/>
<path d="M290.5,746 L284.5,776 L283.5,781.2 Q300,795 313.7,820.4 Q320,840 314.7,848.5 Q308,856 280.5,874.7 L180,929 L143,942.5" stroke-width="1.0" fill="none" stroke-dasharray="6 3"/>
<path d="M281.5,793.3 L234.3,828.4 L180,866 L100.6,910.3" stroke-width="1.0" fill="none" stroke-dasharray="6 3"/>
<path d="M180,813.4 L212,798.3" stroke-width="0.9" fill="none" stroke-dasharray="6 3"/>
<polygon points="143,831 212,798 209,841 146,873.5" stroke-width="1.1" fill="none" stroke-dasharray="9 2.5"/>
<path d="M206,801 L206,838 M202,803 L202,830 M206,838 L220,833 L220,797 L212,798" stroke-width="1.0" fill="none" stroke-dasharray="5 2"/>
<path d="M165,862 L209,843" stroke-width="1.1" fill="none" stroke-dasharray="12 2"/>
<polygon points="109,905.6 142.2,899 142.2,931 135.6,937.7 111,941.5" stroke-width="1.0" fill="none" stroke-dasharray="6 2.5"/>
<path d="M114.8,908.4 L114.8,936.8 L129,928.3 L129,905.6" stroke-width="1.0" fill="none" stroke-dasharray="4 2"/>
<line x1="207.5" y1="815.4" x2="316.5" y2="876.6" stroke-width="1.2"/>
<line x1="115.7" y1="920.5" x2="232" y2="995" stroke-width="1.2"/>
<path d="M310.7,806.3 L438,733.8" stroke-width="1.0" fill="none" stroke-dasharray="9 2.5 2 2.5"/>
<path d="M438,733.8 L438,849 L475.7,828.6" stroke-width="1.1" fill="none" stroke-dasharray="20 3 3 3"/>
<path d="M339.4,700 L339.4,831 L382,856 L381.3,966 L365,960" stroke-width="1.1" fill="none" stroke-dasharray="40 3 3 3"/>
<path d="M384,700 L384,841.6 L451,879 L450.4,896.8" stroke-width="1.1" fill="none" stroke-dasharray="40 3 3 3"/>
<path d="M331.5,338 L289,361.5 Q275,370 275,386 L275,510 Q278.7,516 283,510 L283,386 Q283,376 292,368 L335,345" stroke-width="1.3" fill="none"/>
<ellipse cx="333.3" cy="341.5" rx="2.2" ry="4.2" transform="rotate(-30 333.3 341.5)" stroke-width="1.3" fill="none"/>
<ellipse cx="342" cy="334" rx="4.5" ry="7.5" transform="rotate(-30 342 334)" stroke-width="1.4" fill="none"/>
<ellipse cx="342" cy="334" rx="2.3" ry="4" transform="rotate(-30 342 334)" stroke-width="1.1" fill="none"/>
<path d="M338,327.5 L350,321.5 M346,340.5 L355,335 M350,321.5 Q357,322 355,335" stroke-width="1.3" fill="none"/>
<polygon points="355,316 362,312 375,318 375,330 369,332 355,327" stroke-width="1.4" fill="none"/>
<path d="M362,312 L362,323 M355,316 L369,322 L375,318 M369,322 L369,332" stroke-width="1.0" fill="none"/>
<ellipse cx="362.5" cy="323.5" rx="3.2" ry="3.8" stroke-width="1.2" fill="none"/>
<path d="M371,320 L372,330 M373,319 L374,329" stroke-width="1.0" fill="none"/>
<ellipse cx="210.5" cy="457.5" rx="10.5" ry="6.5" stroke-width="1.5" fill="none"/>
<ellipse cx="210.5" cy="457.5" rx="7" ry="4" stroke-width="1.1" fill="none"/>
<path d="M204,464 L204,474 Q202,490 196,506 L195.5,509 L195.5,568" stroke-width="1.2" fill="none"/>
<path d="M218.5,464 L218.5,480 Q216,495 210.5,508 L210.5,568" stroke-width="1.2" fill="none"/>
<path d="M195.5,568 Q203,573 210.5,568" stroke-width="1.2" fill="none"/>
<ellipse cx="203.2" cy="580.5" rx="10.3" ry="5" stroke-width="1.6" fill="none"/>
<ellipse cx="203.2" cy="580.5" rx="7" ry="3.3" stroke-width="1.1" fill="none"/>
<path d="M192.9,581 L193,590 Q203,597 213.5,590 L213.5,581" stroke-width="1.3" fill="none"/>
<ellipse cx="203.5" cy="603" rx="11.5" ry="6" stroke-width="1.8" fill="none"/>
<ellipse cx="203.5" cy="603" rx="7.5" ry="3.6" stroke-width="1.2" fill="none"/>
<path d="M192,604 L192,617 Q203.5,623 215,617 L215,604" stroke-width="1.3" fill="none"/>
<path d="M192,611 Q203.5,617 215,611 M192,614 Q203.5,620 215,614" stroke-width="1.3" fill="none"/>
<ellipse cx="278.3" cy="521" rx="7.7" ry="4.3" stroke-width="1.5" fill="none"/>
<ellipse cx="278.3" cy="521" rx="4.5" ry="2.4" stroke-width="1.1" fill="none"/>
<path d="M272,523 L272.5,530 Q278,535 284,530 L284.5,523" stroke-width="1.2" fill="none"/>
<path d="M274,526 L282,526" stroke-width="1.6" fill="none"/>
<polygon points="335.9,486.7 339.7,481 386.9,460.2 407.7,460.2 420.9,467.8 426.6,477.2 426.6,490.4 394.5,516.9 386.9,520 373.7,520 335.9,496" stroke-width="1.4" fill="none"/>
<polygon points="341,486.7 386.9,465.5 406.5,465.5 418,472.5 421.5,478.5 421.5,488.6 391,512.2 385,514.5 375.6,514.5 341,492.3" stroke-width="1.2" fill="none"/>
<path d="M386.9,465.5 L388,469 L404,468.5 L406.5,465.5 M410,470 L412,467 M416,476 L418,472" stroke-width="1.0" fill="none"/>
<path d="M375.6,514.5 L373.7,520 M391,512.2 L394.5,516.9" stroke-width="1.0" fill="none"/>
<polygon points="336,501 340,498 366,512 366,518 360,521 336,507" stroke-width="1.2" fill="none"/>
<path d="M340,498 L341,503 L362,515 L366,512" stroke-width="1.0" fill="none"/>
<polygon points="334,524 341,518 366,531 368,537 361,542 334,530" stroke-width="1.5" fill="none"/>
<path d="M341,518 L344,524 L365,535 M344,530 L350,530 L354,536" stroke-width="1.2" fill="none"/>
<polygon points="45.3,709.4 54.5,703.8 62.3,706.6 63.8,744.8 53.8,750.5 41,743.4" stroke-width="1.4" fill="none"/>
<path d="M45.3,709.4 L53,712 L62.3,706.6 M53,712 L53.8,750.5" stroke-width="1.1" fill="none"/>
<rect x="55" y="711.5" width="6" height="5.5" rx="1.5" stroke-width="1.1"/>
<rect x="55" y="718.5" width="6" height="5.5" rx="1.5" stroke-width="1.1"/>
<rect x="55" y="733" width="6" height="5.5" rx="1.5" stroke-width="1.1"/>
<rect x="55" y="740" width="6" height="5.5" rx="1.5" stroke-width="1.1"/>
<path d="M55,727 L61,726" stroke-width="2.2" fill="none"/>
<line x1="56.7" y1="727.8" x2="86.4" y2="742" stroke-width="1.2"/>
<ellipse cx="15.8" cy="703.7" rx="3" ry="5.6" transform="rotate(-28 15.8 703.7)" stroke-width="1.4" fill="none"/>
<path d="M18.5,702 L37,711.5 M17.5,706.5 L35.5,715.5 M37,711.5 Q38.5,714 35.5,715.5" stroke-width="1.2" fill="none"/>
<line x1="22.0" y1="703.5" x2="21.0" y2="707.3" stroke-width="0.9"/>
<line x1="24.0" y1="704.55" x2="23.0" y2="708.3499999999999" stroke-width="0.9"/>
<line x1="26.0" y1="705.6" x2="25.0" y2="709.4" stroke-width="0.9"/>
<line x1="28.0" y1="706.65" x2="27.0" y2="710.4499999999999" stroke-width="0.9"/>
<line x1="30.0" y1="707.7" x2="29.0" y2="711.5" stroke-width="0.9"/>
<line x1="32.0" y1="708.75" x2="31.0" y2="712.55" stroke-width="0.9"/>
<line x1="34.0" y1="709.8" x2="33.0" y2="713.5999999999999" stroke-width="0.9"/>
<line x1="36.0" y1="710.85" x2="35.0" y2="714.65" stroke-width="0.9"/>
<line x1="39" y1="716" x2="44" y2="719" stroke-width="1.0" stroke-dasharray="2 2"/>
<path d="M41.9,840.1 L46.1,838.5 L55.7,844.9 L55.2,848.6 L52,850.7 L51.4,857.6 L47.2,861.9 L45,868.3 L47.7,875.7 L46.7,878.9 L33.4,887.4 L29.1,889.5 Q24,888 23.8,885.3 Q20,880 21.2,875.7 Q21,868 23.8,864 Q27,857 32.3,851.3 Z" stroke-width="1.4" fill="none"/>
<path d="M42.4,842.8 L52,846.5 L51,849.7 L42,846 Z" stroke-width="1.1" fill="none"/>
<path d="M41.9,841.7 L44,849 L52,850.7" stroke-width="1.0" fill="none"/>
<path d="M34.4,854.4 Q38,851 42,853 L44,856 Q38,860 37,868 L40,876 L30,882 L33,870 Q32,860 34.4,854.4" stroke-width="1.1" fill="none"/>
<path d="M25,867 L30,866 L32,872 L27,874 Z M30,872 L38,870" stroke-width="1.1" fill="none"/>
<path d="M32,884 L45,877 M31,880 L44,873" stroke-width="1.0" fill="none"/>
<ellipse cx="51.5" cy="883.5" rx="4.2" ry="5.5" transform="rotate(-30 51.5 883.5)" stroke-width="1.4" fill="none"/>
<path d="M48.5,880 Q52,877 56,880 L55,888 Q51,890 48,887" stroke-width="1.2" fill="none"/>
<path d="M55.5,881.5 L80.7,894.5 M54,887 L78.5,899.5 M80.7,894.5 Q82,898 78.5,899.5" stroke-width="1.2" fill="none"/>
<line x1="64.0" y1="887.0" x2="62.7" y2="891.0" stroke-width="0.9"/>
<line x1="66.1" y1="888.1" x2="64.8" y2="892.1" stroke-width="0.9"/>
<line x1="68.2" y1="889.2" x2="66.9" y2="893.2" stroke-width="0.9"/>
<line x1="70.3" y1="890.3" x2="69.0" y2="894.3" stroke-width="0.9"/>
<line x1="72.4" y1="891.4" x2="71.10000000000001" y2="895.4" stroke-width="0.9"/>
<line x1="74.5" y1="892.5" x2="73.2" y2="896.5" stroke-width="0.9"/>
<line x1="76.6" y1="893.6" x2="75.3" y2="897.6" stroke-width="0.9"/>
<line x1="78.7" y1="894.7" x2="77.4" y2="898.7" stroke-width="0.9"/>
<line x1="82.3" y1="900" x2="92.4" y2="906" stroke-width="1.0" stroke-dasharray="3 2.5"/>
<path d="M319.5,752 Q322,749 324.7,752 L324.7,770 L319.5,770 Z" stroke-width="1.2" fill="none"/>
<line x1="319.5" y1="753" x2="324.7" y2="754" stroke-width="0.9"/>
<line x1="319.5" y1="756" x2="324.7" y2="757" stroke-width="0.9"/>
<line x1="319.5" y1="759" x2="324.7" y2="760" stroke-width="0.9"/>
<line x1="319.5" y1="762" x2="324.7" y2="763" stroke-width="0.9"/>
<ellipse cx="322.5" cy="771.5" rx="8" ry="3.5" stroke-width="1.3" fill="none"/>
<path d="M314.7,771.5 L315,779 Q323,785 330.7,779 L330.7,771.5 M318,776 L318,781 M327,776 L327,781" stroke-width="1.2" fill="none"/>
<line x1="322.5" y1="700" x2="322.5" y2="749" stroke-width="1" stroke-dasharray="4 3"/>
<path d="M370.5,719 Q373.2,716 376,719 L376,748 L370.5,748 Z" stroke-width="1.2" fill="none"/>
<line x1="370.5" y1="720" x2="376" y2="721" stroke-width="0.9"/>
<line x1="370.5" y1="723" x2="376" y2="724" stroke-width="0.9"/>
<line x1="370.5" y1="726" x2="376" y2="727" stroke-width="0.9"/>
<line x1="370.5" y1="729" x2="376" y2="730" stroke-width="0.9"/>
<line x1="370.5" y1="732" x2="376" y2="733" stroke-width="0.9"/>
<ellipse cx="373" cy="749" rx="8" ry="3.3" stroke-width="1.3" fill="none"/>
<path d="M365,749 L365.5,756 Q373,762 381,756 L381,749 M368,754 L368,759 M378,754 L378,759" stroke-width="1.2" fill="none"/>
<path d="M318,870.8 Q318,864 323,863 L327.4,862.3 Q333,862 337.8,867.5 L338.7,886.8 L341.5,894.4 L341.5,904.8 Q338,910 331.2,910.4 Q322,908 318.9,902.9 Q318,900 318,896 Z" stroke-width="1.5" fill="none"/>
<path d="M321.7,868.4 L326.4,870.8 L337.8,867.5 M326.4,870.8 L327.4,907.6" stroke-width="1.1" fill="none"/>
<line x1="328" y1="874.5" x2="337" y2="872" stroke-width="1.3"/>
<line x1="328" y1="877.5" x2="337" y2="875" stroke-width="1.3"/>
<line x1="328" y1="880.5" x2="337" y2="878" stroke-width="1.3"/>
<line x1="328" y1="883.5" x2="337" y2="881" stroke-width="1.3"/>
<line x1="328" y1="886.5" x2="337" y2="884" stroke-width="1.3"/>
<line x1="328.5" y1="896.5" x2="340.5" y2="893.5" stroke-width="1.3"/>
<line x1="328.5" y1="899.5" x2="340.5" y2="896.5" stroke-width="1.3"/>
<line x1="328.5" y1="902.5" x2="340.5" y2="899.5" stroke-width="1.3"/>
<line x1="328.5" y1="905.5" x2="340.5" y2="902.5" stroke-width="1.3"/>
<line x1="332.6" y1="888.7" x2="350.5" y2="898" stroke-width="1.1"/>
<ellipse cx="357.6" cy="901.5" rx="4.8" ry="5.5" transform="rotate(-20 357.6 901.5)" stroke-width="1.6" fill="none"/>
<ellipse cx="357.6" cy="901.5" rx="2.2" ry="2.8" transform="rotate(-20 357.6 901.5)" stroke-width="1.1" fill="none"/>
<path d="M238.4,967 L253.8,964.2 L271.5,973 L270.3,1000.8 Q268,1009 265.6,1011.4 L253.8,1013.8 L237.2,1014.3 Q231,1012 230,1005.5 L233,992.5 L235.5,983 L239.6,972.4 Z" stroke-width="1.4" fill="none"/>
<path d="M239.6,972.4 L244.3,979 L271.5,973 M244.3,979 Q241,990 242,997.2 Q243,1008 245,1013.5" stroke-width="1.1" fill="none"/>
<path d="M246.7,967 L262,967 L262,973 L246.7,973 Z" stroke-width="1.0" fill="none"/>
<rect x="247" y="982" width="2.5" height="2" stroke-width="0.6" fill="#000"/>
<rect x="251" y="982" width="2.5" height="2" stroke-width="0.6" fill="#000"/>
<rect x="256" y="982" width="2.5" height="2" stroke-width="0.6" fill="#000"/>
<rect x="261" y="982" width="2.5" height="2" stroke-width="0.6" fill="#000"/>
<rect x="247" y="987" width="2.5" height="2" stroke-width="0.6" fill="#000"/>
<rect x="251" y="987" width="2.5" height="2" stroke-width="0.6" fill="#000"/>
<rect x="256" y="987" width="2.5" height="2" stroke-width="0.6" fill="#000"/>
<rect x="261" y="987" width="2.5" height="2" stroke-width="0.6" fill="#000"/>
<rect x="247" y="992" width="2.5" height="2" stroke-width="0.6" fill="#000"/>
<rect x="251" y="992" width="2.5" height="2" stroke-width="0.6" fill="#000"/>
<rect x="256" y="992" width="2.5" height="2" stroke-width="0.6" fill="#000"/>
<line x1="248" y1="999" x2="259" y2="997" stroke-width="1.5"/>
<line x1="248" y1="1003" x2="259" y2="1001" stroke-width="1.5"/>
<line x1="248" y1="1007" x2="259" y2="1005" stroke-width="1.5"/>
<line x1="248" y1="1011" x2="259" y2="1009" stroke-width="1.5"/>
<path d="M233.5,990 L238,988 L240,995 L236,997 Z" stroke-width="1.3" fill="#000"/>
<line x1="216.6" y1="1005.5" x2="237.2" y2="994.3" stroke-width="1.1"/>
<polygon points="205,1006 210,1004.5 215.5,1007 216.5,1013 212,1017.5 206,1017 203.5,1012" stroke-width="1.5" fill="none"/>
<ellipse cx="210.5" cy="1010.8" rx="3" ry="3.5" transform="rotate(-25 210.5 1010.8)" stroke-width="1.3" fill="none"/>
<path d="M206,1017 L207,1012 L215.5,1007" stroke-width="0.9" fill="none"/>
<polygon points="87,1044.6 105.6,1014.8 109.3,1016.9 110.2,1019 111,1020.2 137.9,1005.3 142.4,1008.2 142.4,1031.4 110.6,1049.1 110.2,1057.4" stroke-width="1.6" fill="none"/>
<path d="M91.6,1045.8 L109.3,1019.8 M110.6,1025.6 L141.2,1009 M110.6,1025.6 L110.6,1049.1" stroke-width="1.0" fill="none"/>
<text transform="translate(110 1045.5) skewY(-27)" font-size="20.5" font-weight="bold" textLength="29" lengthAdjust="spacingAndGlyphs">FWD</text>
<path d="M340.4,973.5 L354.6,966 L354.6,958.4 L369.7,950.8 L383,955.6 L384.8,953.7 L384.8,935.7 L396,930 L404.6,934.8 L405.5,955.6 Q408,968 418.8,972.6 L420.7,975.4 L379,1000 L375.3,998 Q360,985 340.4,977 Z" stroke-width="1.4" fill="none"/>
<path d="M354.6,958.4 L369.7,966 L383,955.6 M369.7,966 Q366,985 375.3,998" stroke-width="1.1" fill="none"/>
<path d="M384.8,935.7 L393.3,940.4 L404.6,934.8 M393.3,940.4 L393.3,954" stroke-width="1.1" fill="none"/>
<path d="M382,957.4 L382,967 L393.3,962" stroke-width="1.0" fill="none"/>
<path d="M375.3,983 L402.7,966" stroke-width="1.1" fill="none"/>
<path d="M377,996 L419.7,973" stroke-width="1.0" fill="none"/>
<ellipse cx="382" cy="1011.8" rx="8" ry="4" stroke-width="1.6" fill="none"/>
<ellipse cx="382" cy="1011.8" rx="3.5" ry="1.7" stroke-width="1.1" fill="none"/>
<line x1="381.5" y1="1000" x2="381.5" y2="1007" stroke-width="1.0"/>
<path d="M379,1024 Q382,1021 385,1024 L385,1052 L379,1052 Z" stroke-width="1.2" fill="none"/>
<line x1="379" y1="1026" x2="385" y2="1027" stroke-width="0.9"/>
<line x1="379" y1="1029" x2="385" y2="1030" stroke-width="0.9"/>
<line x1="379" y1="1032" x2="385" y2="1033" stroke-width="0.9"/>
<line x1="379" y1="1035" x2="385" y2="1036" stroke-width="0.9"/>
<line x1="379" y1="1038" x2="385" y2="1039" stroke-width="0.9"/>
<ellipse cx="381.8" cy="1053.5" rx="8" ry="3.3" stroke-width="1.3" fill="none"/>
<path d="M373.7,1053.5 L374,1060 Q382,1066 389.5,1060 L389.5,1053.5 M377,1058 L377,1063 M386,1058 L386,1063" stroke-width="1.2" fill="none"/>
<path d="M438,931 Q425,926 423,914 Q425,902 440,898 Q450,895.5 460,897 Q476,901 477.8,912.3 Q477,920 470,925 Q462,930 454.7,931 L441,932" stroke-width="1.6" fill="none"/>
<path d="M423.3,916 L423.3,924.7 Q428,930 438.1,933.5 L441.4,934 M441.4,927 L441.4,934 M441.4,929 Q460,930 474.5,921.4" stroke-width="1.5" fill="none"/>
<path d="M441.4,929.5 L452,929" stroke-width="2.2" fill="none"/>
<ellipse cx="452" cy="899.2" rx="4.2" ry="2.4" stroke-width="1.5" fill="none"/>
<path d="M435.7,901.6 L429,910.7 L434,914.8 L425.7,923" stroke-width="1.4" fill="none"/>
<path d="M436.5,903.2 L448,909 L446.4,912.3 Q447,918 453.8,923 M440,903 L449,907 L448.5,912 Q449,917 455,921" stroke-width="1.3" fill="none"/>
<path d="M458,903.2 Q461,906 463,911 Q462,916 452.2,917.3 M459,905 L466,911" stroke-width="1.3" fill="none"/>
<path d="M428,925 L447,921" stroke-width="1.2" fill="none"/>
<line x1="451" y1="933.8" x2="451" y2="939" stroke-width="1.0"/>
<path d="M448,941 Q450.8,939 453.7,941 L453.7,961 L448,961 Z" stroke-width="1.2" fill="none"/>
<line x1="448" y1="943" x2="453.7" y2="944" stroke-width="0.9"/>
<line x1="448" y1="946" x2="453.7" y2="947" stroke-width="0.9"/>
<line x1="448" y1="949" x2="453.7" y2="950" stroke-width="0.9"/>
<line x1="448" y1="952" x2="453.7" y2="953" stroke-width="0.9"/>
<line x1="448" y1="955" x2="453.7" y2="956" stroke-width="0.9"/>
<path d="M444.3,962 Q450.5,958 456.6,962 L456.6,969 Q450.5,973 444.3,969 Z" stroke-width="1.3" fill="none"/>
</g>
</svg>
</body></html>
